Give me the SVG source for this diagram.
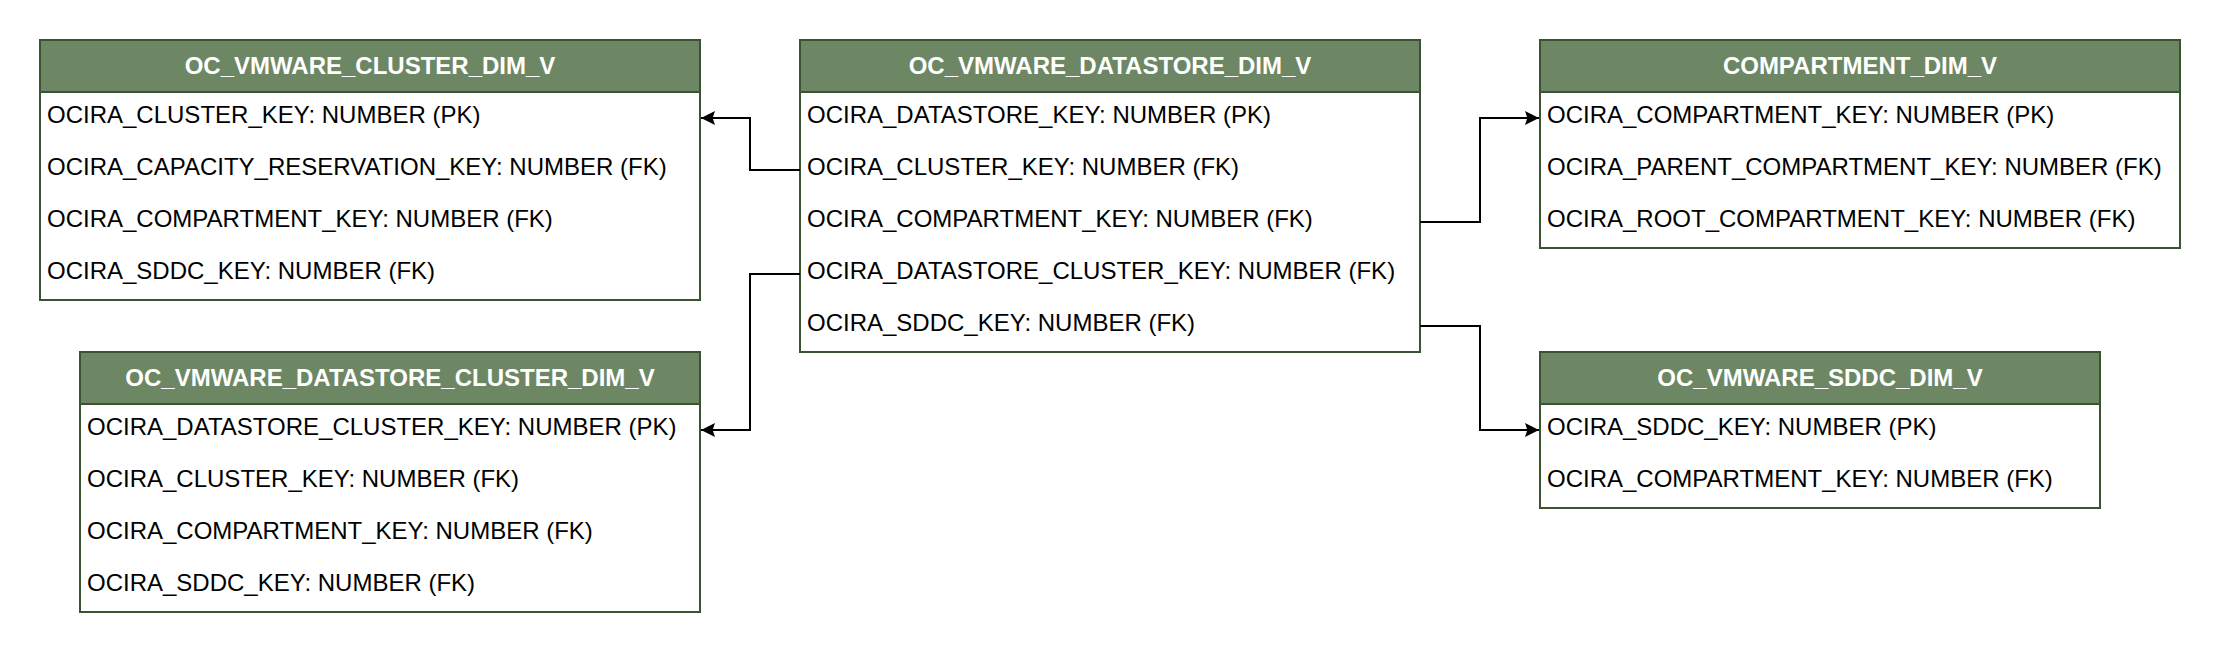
<svg xmlns="http://www.w3.org/2000/svg" width="2220" height="652" viewBox="0 0 2220 652">
  <style>
    .body { fill: #ffffff; stroke: #3A5431; stroke-width: 2; }
    .head { fill: #6d8764; stroke: #3A5431; stroke-width: 2; }
    .title { font-family: "Liberation Sans", Arial, Helvetica, sans-serif; font-size: 24px; font-weight: bold; fill: #ffffff; text-anchor: middle; }
    .row { font-family: "Liberation Sans", Arial, Helvetica, sans-serif; font-size: 24px; fill: #000000; }
    .edge { fill: none; stroke: #000000; stroke-width: 2; }
  </style>
  <defs>
    <marker id="arrow" markerUnits="userSpaceOnUse" markerWidth="14" markerHeight="14" viewBox="0 0 12 12" refX="12" refY="6" orient="auto">
      <path d="M0,0 L12,6 L0,12 L2,6 Z" fill="#000000"/>
    </marker>
  </defs>
  <rect x="0" y="0" width="2220" height="652" fill="#ffffff"/>

  <g id="oc_vmware_cluster_dim_v">
    <rect class="body" x="40" y="40" width="660" height="260"/>
    <rect class="head" x="40" y="40" width="660" height="52"/>
    <text class="title" x="370" y="74">OC_VMWARE_CLUSTER_DIM_V</text>
    <text class="row" x="47" y="123">OCIRA_CLUSTER_KEY: NUMBER (PK)</text>
    <text class="row" x="47" y="175">OCIRA_CAPACITY_RESERVATION_KEY: NUMBER (FK)</text>
    <text class="row" x="47" y="227">OCIRA_COMPARTMENT_KEY: NUMBER (FK)</text>
    <text class="row" x="47" y="279">OCIRA_SDDC_KEY: NUMBER (FK)</text>
  </g>

  <g id="oc_vmware_datastore_dim_v">
    <rect class="body" x="800" y="40" width="620" height="312"/>
    <rect class="head" x="800" y="40" width="620" height="52"/>
    <text class="title" x="1110" y="74">OC_VMWARE_DATASTORE_DIM_V</text>
    <text class="row" x="807" y="123">OCIRA_DATASTORE_KEY: NUMBER (PK)</text>
    <text class="row" x="807" y="175">OCIRA_CLUSTER_KEY: NUMBER (FK)</text>
    <text class="row" x="807" y="227">OCIRA_COMPARTMENT_KEY: NUMBER (FK)</text>
    <text class="row" x="807" y="279">OCIRA_DATASTORE_CLUSTER_KEY: NUMBER (FK)</text>
    <text class="row" x="807" y="331">OCIRA_SDDC_KEY: NUMBER (FK)</text>
  </g>

  <g id="compartment_dim_v">
    <rect class="body" x="1540" y="40" width="640" height="208"/>
    <rect class="head" x="1540" y="40" width="640" height="52"/>
    <text class="title" x="1860" y="74">COMPARTMENT_DIM_V</text>
    <text class="row" x="1547" y="123">OCIRA_COMPARTMENT_KEY: NUMBER (PK)</text>
    <text class="row" x="1547" y="175">OCIRA_PARENT_COMPARTMENT_KEY: NUMBER (FK)</text>
    <text class="row" x="1547" y="227">OCIRA_ROOT_COMPARTMENT_KEY: NUMBER (FK)</text>
  </g>

  <g id="oc_vmware_datastore_cluster_dim_v">
    <rect class="body" x="80" y="352" width="620" height="260"/>
    <rect class="head" x="80" y="352" width="620" height="52"/>
    <text class="title" x="390" y="386">OC_VMWARE_DATASTORE_CLUSTER_DIM_V</text>
    <text class="row" x="87" y="435">OCIRA_DATASTORE_CLUSTER_KEY: NUMBER (PK)</text>
    <text class="row" x="87" y="487">OCIRA_CLUSTER_KEY: NUMBER (FK)</text>
    <text class="row" x="87" y="539">OCIRA_COMPARTMENT_KEY: NUMBER (FK)</text>
    <text class="row" x="87" y="591">OCIRA_SDDC_KEY: NUMBER (FK)</text>
  </g>

  <g id="oc_vmware_sddc_dim_v">
    <rect class="body" x="1540" y="352" width="560" height="156"/>
    <rect class="head" x="1540" y="352" width="560" height="52"/>
    <text class="title" x="1820" y="386">OC_VMWARE_SDDC_DIM_V</text>
    <text class="row" x="1547" y="435">OCIRA_SDDC_KEY: NUMBER (PK)</text>
    <text class="row" x="1547" y="487">OCIRA_COMPARTMENT_KEY: NUMBER (FK)</text>
  </g>

  <g id="connectors">
    <path class="edge" d="M800,170 H750 V118 H701" marker-end="url(#arrow)"/>
    <path class="edge" d="M800,274 H750 V430 H701" marker-end="url(#arrow)"/>
    <path class="edge" d="M1420,222 H1480 V118 H1539" marker-end="url(#arrow)"/>
    <path class="edge" d="M1420,326 H1480 V430 H1539" marker-end="url(#arrow)"/>
  </g>
</svg>
